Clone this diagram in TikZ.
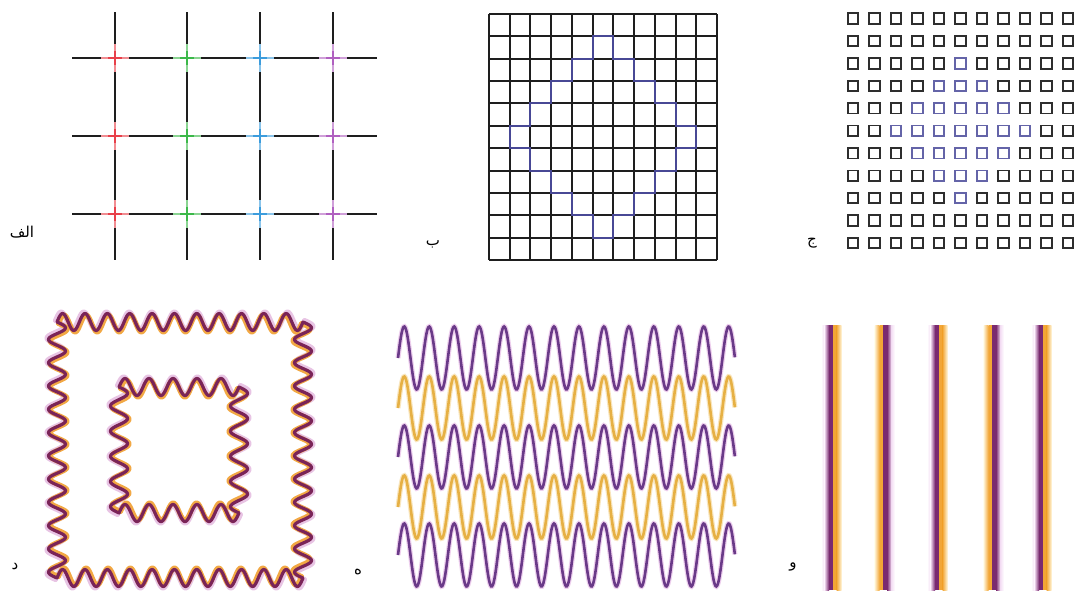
\documentclass[tikz,border=0pt]{standalone}
\usepackage{fontspec}
\newfontfamily\arabicfont[Script=Arabic]{DejaVu Sans}
\TeXXeTstate=1
\definecolor{gridk}{HTML}{1E1E1E}
\definecolor{ared}{HTML}{E8404A}
\definecolor{agreen}{HTML}{3CB84A}
\definecolor{ablue}{HTML}{3C9CDC}
\definecolor{amag}{HTML}{B060C0}
\definecolor{bblue}{HTML}{5A5AC8}
\definecolor{csqk}{HTML}{2E2E2E}
\definecolor{cblue}{HTML}{6464A8}
\definecolor{wpurple}{HTML}{6A3A88}
\definecolor{wpglow}{HTML}{EED0EE}
\definecolor{worange}{HTML}{E6B044}
\definecolor{woglow}{HTML}{F9E6BE}
\definecolor{dcore}{HTML}{7A2458}
\definecolor{dmid}{HTML}{F2A844}
\definecolor{dlav}{HTML}{E8C4E4}
\definecolor{fpurple}{HTML}{7A2A70}
\definecolor{flav}{HTML}{F4E0F4}
\definecolor{forange}{HTML}{F2A636}
\definecolor{fyellow}{HTML}{FFF6DC}
\tikzset{
  gridline/.style={gridk, line width=2pt},
  lab/.style={font=\fontsize{15}{18}\selectfont\arabicfont, inner sep=0pt},
  csq/.style={csqk, line width=1.8pt},
  wavyline/.style={line join=round, line cap=round},
}
\newcommand\bxx[1]{489+20.727*#1}
\newcommand\byy[1]{14+22.364*#1}
\def\wamp{8.5}
% wavy square: #1 options, #2 x0, #3 y0, #4 x1, #5 y1, #6 periods along x, #7 periods along y
\newcommand\wavysq[7]{%
  \draw[wavyline, #1]
    plot[domain=0:1, samples=240, smooth, variable=\t] ({#2+(#4-#2)*\t},{#3-\wamp*sin(360*#6*\t)})
    -- plot[domain=0:1, samples=240, smooth, variable=\t] ({#4+\wamp*sin(360*#7*\t)},{#3+(#5-#3)*\t})
    -- plot[domain=0:1, samples=240, smooth, variable=\t] ({#4-(#4-#2)*\t},{#5+\wamp*sin(360*#6*\t)})
    -- plot[domain=0:1, samples=240, smooth, variable=\t] ({#2-\wamp*sin(360*#7*\t)},{#5-(#5-#3)*\t})
    -- cycle;}
\begin{document}
\begin{tikzpicture}[x=1pt, y=-1pt]
\useasboundingbox (0,0) rectangle (1076,595);
\fill[white] (0,0) rectangle (1076,595);

% ---------- panel alef ----------
\foreach \x in {115,187,260,333} \draw[gridline] (\x,12) -- (\x,260);
\foreach \y in {58,136,214} \draw[gridline] (72,\y) -- (377,\y);
\foreach \x/\c in {115/ared,187/agreen,260/ablue,333/amag}
  \foreach \y in {58,136,214} {
    \draw[\c!60!white, line width=2.4pt] ({\x-14},\y) -- ({\x+14},\y);
    \draw[\c!60!white, line width=2.4pt] (\x,{\y-14}) -- (\x,{\y+14});
    \draw[\c, line width=2.2pt] ({\x-7},\y) -- ({\x+7},\y);
    \draw[\c, line width=2.2pt] (\x,{\y-7}) -- (\x,{\y+7});
  }
\node[lab] (la) at (22,232) {\beginR الف\endR};

% ---------- panel be ----------
\foreach \i in {0,...,11} {
  \draw[gridline] ({\bxx{\i}},14) -- ({\bxx{\i}},260);
  \draw[gridline] (489,{\byy{\i}}) -- (717,{\byy{\i}});
}
\draw[bblue, line width=2pt, opacity=0.7, line join=miter]
  ({\bxx{5}},{\byy{1}}) -- ({\bxx{6}},{\byy{1}}) -- ({\bxx{6}},{\byy{2}}) -- ({\bxx{7}},{\byy{2}})
  -- ({\bxx{7}},{\byy{3}}) -- ({\bxx{8}},{\byy{3}}) -- ({\bxx{8}},{\byy{4}}) -- ({\bxx{9}},{\byy{4}})
  -- ({\bxx{9}},{\byy{5}}) -- ({\bxx{10}},{\byy{5}}) -- ({\bxx{10}},{\byy{6}}) -- ({\bxx{9}},{\byy{6}})
  -- ({\bxx{9}},{\byy{7}}) -- ({\bxx{8}},{\byy{7}}) -- ({\bxx{8}},{\byy{8}}) -- ({\bxx{7}},{\byy{8}})
  -- ({\bxx{7}},{\byy{9}}) -- ({\bxx{6}},{\byy{9}}) -- ({\bxx{6}},{\byy{10}}) -- ({\bxx{5}},{\byy{10}})
  -- ({\bxx{5}},{\byy{9}}) -- ({\bxx{4}},{\byy{9}}) -- ({\bxx{4}},{\byy{8}}) -- ({\bxx{3}},{\byy{8}})
  -- ({\bxx{3}},{\byy{7}}) -- ({\bxx{2}},{\byy{7}}) -- ({\bxx{2}},{\byy{6}}) -- ({\bxx{1}},{\byy{6}})
  -- ({\bxx{1}},{\byy{5}}) -- ({\bxx{2}},{\byy{5}}) -- ({\bxx{2}},{\byy{4}}) -- ({\bxx{3}},{\byy{4}})
  -- ({\bxx{3}},{\byy{3}}) -- ({\bxx{4}},{\byy{3}}) -- ({\bxx{4}},{\byy{2}}) -- ({\bxx{5}},{\byy{2}}) -- cycle;
\node[lab] (lb) at (433,244) {\beginR ب\endR};

% ---------- panel jim ----------
\foreach \i in {0,...,10}
  \foreach \j in {0,...,10} {
    \pgfmathtruncatemacro\dd{abs(\i-5)+abs(\j-5)}
    \ifnum\dd<4
      \draw[csq, cblue] ({853+21.5*\i-5.2},{18.5+22.45*\j-5.2}) rectangle +(10.4,10.4);
    \else
      \draw[csq] ({853+21.5*\i-5.2},{18.5+22.45*\j-5.2}) rectangle +(10.4,10.4);
    \fi
  }
\node[lab] (lc) at (812,243) {\beginR ج\endR};

% ---------- panel dal ----------
\wavysq{dlav, line width=5pt}{55.5}{320.5}{304.5}{579.5}{11}{11}
\wavysq{dlav, line width=5pt}{117.5}{385.5}{240.5}{514.5}{5}{5}
\wavysq{dmid, line width=5pt}{58.5}{323.5}{301.5}{576.5}{11}{11}
\wavysq{dmid, line width=5pt}{120.5}{388.5}{237.5}{511.5}{5}{5}
\wavysq{dcore, line width=3.2pt}{57}{322}{303}{578}{11}{11}
\wavysq{dcore, line width=3.2pt}{119}{387}{239}{513}{5}{5}
\node[lab] (ld) at (15,567) {\beginR د\endR};

% ---------- panel he ----------
\foreach \c in {408,507} {
  \draw[woglow, line width=5pt] plot[domain=0:13.5, samples=420, smooth, variable=\t] ({398+24.96*\t},{\c-31.5*sin(360*\t)});
  \draw[worange, line width=2.6pt] plot[domain=0:13.5, samples=420, smooth, variable=\t] ({398+24.96*\t},{\c-31.5*sin(360*\t)});
}
\foreach \c in {358,457,555} {
  \draw[wpglow, line width=5pt] plot[domain=0:13.5, samples=420, smooth, variable=\t] ({398+24.96*\t},{\c-31.5*sin(360*\t)});
  \draw[wpurple, line width=2.6pt] plot[domain=0:13.5, samples=420, smooth, variable=\t] ({398+24.96*\t},{\c-31.5*sin(360*\t)});
}
\node[lab] (le) at (358,572) {\beginR ه\endR};

% ---------- panel vav ----------
\foreach \b in {833,939,1043} {
  \shade[left color=white, right color=flav] ({\b-12},325) rectangle ({\b-8.5},590);
  \shade[left color=flav, right color=fpurple] ({\b-8.5},325) rectangle ({\b-4},590);
  \fill[fpurple] ({\b-4},325) rectangle (\b,590);
  \fill[forange] (\b,325) rectangle ({\b+3.5},590);
  \shade[left color=forange, right color=fyellow] ({\b+3.5},325) rectangle ({\b+8.5},590);
}
\foreach \b in {883,992} {
  \shade[left color=fyellow, right color=forange] ({\b-8.5},325) rectangle ({\b-3.5},590);
  \fill[forange] ({\b-3.5},325) rectangle (\b,590);
  \fill[fpurple] (\b,325) rectangle ({\b+4},590);
  \shade[left color=fpurple, right color=flav] ({\b+4},325) rectangle ({\b+8.5},590);
  \shade[left color=flav, right color=white] ({\b+8.5},325) rectangle ({\b+12},590);
}
\node[lab] (lf) at (793,567) {\beginR و\endR};
\end{tikzpicture}
\end{document}
